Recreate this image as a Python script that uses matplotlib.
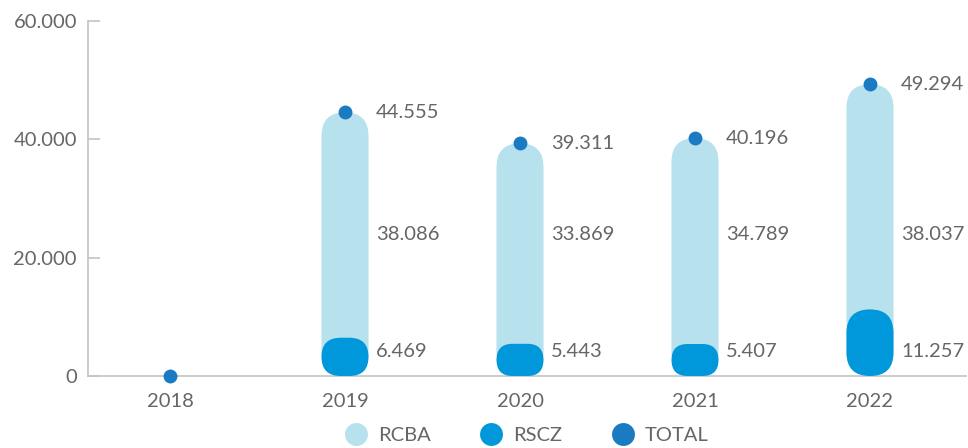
import matplotlib
matplotlib.use('Agg')
import matplotlib.pyplot as plt
from matplotlib.patches import FancyBboxPatch
from matplotlib.lines import Line2D

years = ['2018', '2019', '2020', '2021', '2022']
rcba = [0, 38086, 33869, 34789, 38037]
rscz = [0, 6469, 5443, 5407, 11257]
total = [0, 44555, 39311, 40196, 49294]

rcba_labels = ['', '38.086', '33.869', '34.789', '38.037']
rscz_labels = ['', '6.469', '5.443', '5.407', '11.257']
total_labels = ['', '44.555', '39.311', '40.196', '49.294']

C_RCBA = '#b6e1ed'
C_RSCZ = '#0098da'
C_TOTAL = '#1b7bc2'
C_TEXT = '#666666'
C_AXIS = '#c4c4c4'

plt.rcParams['font.family'] = ['Lato', 'DejaVu Sans']
FS = 14.5

fig = plt.figure(figsize=(9.68, 4.48), dpi=100)
ax = fig.add_axes([88 / 968, 72 / 448, 878 / 968, 355 / 448])
ax.set_xlim(-0.4686, 4.5486)
ax.set_ylim(0, 60000)

for s in ['top', 'right']:
    ax.spines[s].set_visible(False)
for s in ['left', 'bottom']:
    ax.spines[s].set_color(C_AXIS)
    ax.spines[s].set_linewidth(1.2)

ax.set_yticks([0, 20000, 40000, 60000])
ax.set_yticklabels(['0', '20.000', '40.000', '60.000'])
ax.set_xticks(range(len(years)))
ax.set_xticklabels(years)
ax.tick_params(axis='y', direction='in', length=8.6, width=1.2, color=C_AXIS,
               labelsize=FS, labelcolor=C_TEXT, pad=8)
ax.tick_params(axis='x', length=0, labelsize=FS, labelcolor=C_TEXT, pad=12)

# pixel scale so the rounded ends come out circular
p0 = ax.transData.transform((0, 0))
p1 = ax.transData.transform((1, 1))
px_x = p1[0] - p0[0]
px_y = p1[1] - p0[1]
aspect = px_x / px_y

bar_w = 47 / px_x


def pill(x, top, color, z):
    if top <= 0:
        return
    r = min(bar_w / 2, top / aspect / 2)
    patch = FancyBboxPatch((x - bar_w / 2, 0), bar_w, top,
                           boxstyle=f'round,pad=0,rounding_size={r}',
                           mutation_aspect=aspect, fc=color, ec='none', zorder=z)
    ax.add_patch(patch)


for i in range(len(years)):
    pill(i, total[i], C_RCBA, 2)
    pill(i, rscz[i], C_RSCZ, 3)

ax.plot(range(len(years)), total, 'o', color=C_TOTAL, markersize=10,
        markeredgewidth=0, zorder=5, clip_on=False)

lab_dx = 31 / px_x
RCBA_LABEL_Y = 24000
RSCZ_LABEL_Y = 4200
for i in range(len(years)):
    if total[i] == 0:
        continue
    ax.text(i + lab_dx, total[i], total_labels[i], va='center', ha='left',
            fontsize=FS, color=C_TEXT)
    ax.text(i + lab_dx, RCBA_LABEL_Y, rcba_labels[i], va='center', ha='left',
            fontsize=FS, color=C_TEXT)
    ax.text(i + lab_dx, RSCZ_LABEL_Y, rscz_labels[i], va='center', ha='left',
            fontsize=FS, color=C_TEXT)

handles = [Line2D([], [], marker='o', ls='none', color=c, markersize=16.5, markeredgewidth=0)
           for c in (C_RCBA, C_RSCZ, C_TOTAL)]
fig.legend(handles, ['RCBA', 'RSCZ', 'TOTAL'], loc='center',
           bbox_to_anchor=(527 / 968, 13 / 448), ncol=3, frameon=False,
           fontsize=FS, labelcolor=C_TEXT, handlelength=1.0, handletextpad=0.6,
           columnspacing=2.5)

fig.savefig('out.png', dpi=100)
